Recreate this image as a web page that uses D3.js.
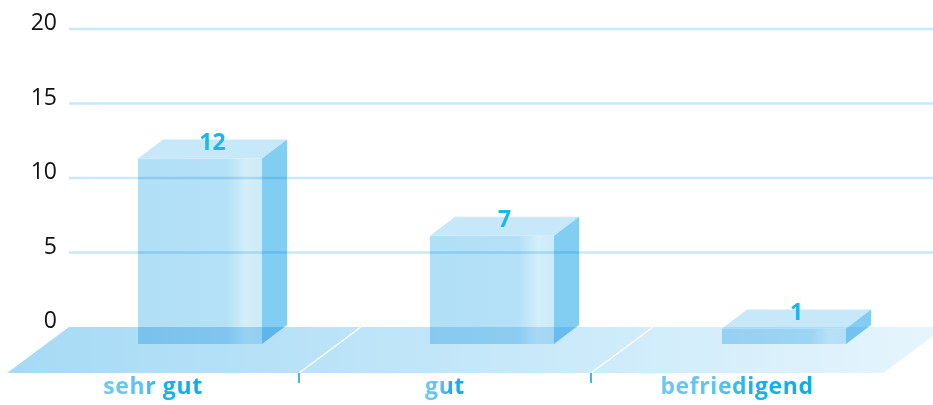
<!DOCTYPE html>
<html>
<head>
<meta charset="utf-8">
<script src="https://cdn.jsdelivr.net/npm/d3@7/dist/d3.min.js"></script>
<style>
  html, body { margin: 0; padding: 0; background: #fff; }
  svg { display: block; }
  .bar { mix-blend-mode: multiply; }
</style>
</head>
<body>
<svg id="chart" width="933" height="405"></svg>
<script>
// Ratings and how many answers each one received
const categories = ["sehr gut", "gut", "befriedigend"];
const values = [12, 7, 1];
const tickValues = [0, 5, 10, 15, 20];

const W = 933, H = 405;
const svg = d3.select("#chart");

// value axis: gridlines sit on the back wall, 0 on the back edge of the floor
const y = d3.scaleLinear().domain([0, 20]).range([327, 29]);
// bar height (front face) scale
const h = d3.scaleLinear().domain([0, 20]).range([0, 309]);

// floor front edge split into one band per category
const floorFront = y(0) + 46;        // y of floor front edge
const skew = 62;                     // horizontal shift of the back edge
const xFloor = d3.scaleBand().domain(categories).range([7, 883]);

const depthX = 25, depthY = 19;      // box depth projection
const barW = 124;
const barBase = y(0) + 17;           // front bottom of the boxes

const defs = svg.append("defs");

const floorGrad = defs.append("linearGradient")
  .attr("id", "floorGrad").attr("gradientUnits", "userSpaceOnUse")
  .attr("x1", 7).attr("x2", 933).attr("y1", 0).attr("y2", 0);
floorGrad.append("stop").attr("offset", 0).attr("stop-color", "#a6daf5");
floorGrad.append("stop").attr("offset", 0.5).attr("stop-color", "#c4e7f9");
floorGrad.append("stop").attr("offset", 1).attr("stop-color", "#e6f5fd");

const frontGrad = defs.append("linearGradient")
  .attr("id", "frontGrad").attr("x1", 0).attr("x2", 1).attr("y1", 0).attr("y2", 0);
[[0, "#b1dff6"], [0.72, "#b4e1f7"], [0.87, "#d4eefa"], [1, "#cdeaf9"]]
  .forEach(([o, c]) => frontGrad.append("stop").attr("offset", o).attr("stop-color", c));

const labelGrad = defs.append("linearGradient")
  .attr("id", "labelGrad").attr("x1", 0).attr("x2", 1).attr("y1", 0).attr("y2", 0);
[[0, "#6fc9f1"], [0.38, "#5ec3f0"], [0.6, "#19b2ec"], [1, "#0aadea"]]
  .forEach(([o, c]) => labelGrad.append("stop").attr("offset", o).attr("stop-color", c));

// gridlines (no line at 0, the floor edge takes its place)
svg.append("g").selectAll("line")
  .data(tickValues.filter(d => d > 0))
  .join("line")
  .attr("x1", 69).attr("x2", W)
  .attr("y1", d => y(d)).attr("y2", d => y(d))
  .attr("stroke", "#c8e9f9").attr("stroke-width", 2.5);

// tick labels
svg.append("g").selectAll("text")
  .data(tickValues)
  .join("text")
  .attr("x", 57).attr("y", d => y(d) + 1)
  .attr("text-anchor", "end")
  .attr("font-family", "'Open Sans', sans-serif")
  .attr("font-size", 23)
  .attr("fill", "#111")
  .text(d => d);

// floor
const x0 = xFloor.range()[0], x1 = xFloor.range()[1];
svg.append("path")
  .attr("d", `M${x0},${floorFront}L${x1},${floorFront}L${x1 + skew},${y(0)}L${x0 + skew},${y(0)}Z`)
  .attr("fill", "url(#floorGrad)");

// white dividers between the category sections of the floor
svg.append("g").selectAll("line")
  .data(categories.slice(1))
  .join("line")
  .attr("x1", d => xFloor(d)).attr("y1", floorFront)
  .attr("x2", d => xFloor(d) + skew).attr("y2", y(0))
  .attr("stroke", "#fff").attr("stroke-width", 1.3);

// ticks under the floor
svg.append("g").selectAll("line")
  .data(categories.slice(1))
  .join("line")
  .attr("x1", d => xFloor(d)).attr("x2", d => xFloor(d))
  .attr("y1", floorFront).attr("y2", floorFront + 10)
  .attr("stroke", "#1a9fdc").attr("stroke-width", 1.6);

// boxes
const barLeft = d => xFloor(d) + xFloor.bandwidth() / 2 + 47 - barW / 2;
const bars = svg.append("g").selectAll("g")
  .data(categories.map((c, i) => ({ c, v: values[i] })))
  .join("g").attr("class", "bar");

bars.append("rect")
  .attr("x", d => barLeft(d.c))
  .attr("y", d => barBase - h(d.v))
  .attr("width", barW)
  .attr("height", d => h(d.v))
  .attr("fill", "url(#frontGrad)");

bars.append("path")
  .attr("d", d => {
    const l = barLeft(d.c), r = l + barW, t = barBase - h(d.v);
    return `M${l},${t}L${r},${t}L${r + depthX},${t - depthY}L${l + depthX},${t - depthY}Z`;
  })
  .attr("fill", "#c6e8f9");

bars.append("path")
  .attr("d", d => {
    const r = barLeft(d.c) + barW, t = barBase - h(d.v);
    return `M${r},${t}L${r + depthX},${t - depthY}L${r + depthX},${barBase - depthY}L${r},${barBase}Z`;
  })
  .attr("fill", "#82cef3");

// value labels on the top faces
svg.append("g").selectAll("text")
  .data(categories.map((c, i) => ({ c, v: values[i] })))
  .join("text")
  .attr("x", d => barLeft(d.c) + barW / 2 + depthX / 2)
  .attr("y", d => barBase - h(d.v) - depthY / 2 + 1)
  .attr("text-anchor", "middle")
  .attr("font-family", "'Open Sans', sans-serif")
  .attr("font-weight", 700)
  .attr("font-size", 23)
  .attr("fill", "#20b4ec")
  .text(d => d.v);

// category labels under the floor
svg.append("g").selectAll("text")
  .data(categories)
  .join("text")
  .attr("x", d => xFloor(d) + xFloor.bandwidth() / 2)
  .attr("y", floorFront + 21)
  .attr("text-anchor", "middle")
  .attr("font-family", "'Open Sans', sans-serif")
  .attr("font-weight", 700)
  .attr("font-size", 23)
  .attr("letter-spacing", 0.6)
  .attr("fill", "url(#labelGrad)")
  .text(d => d);
</script>
</body>
</html>
